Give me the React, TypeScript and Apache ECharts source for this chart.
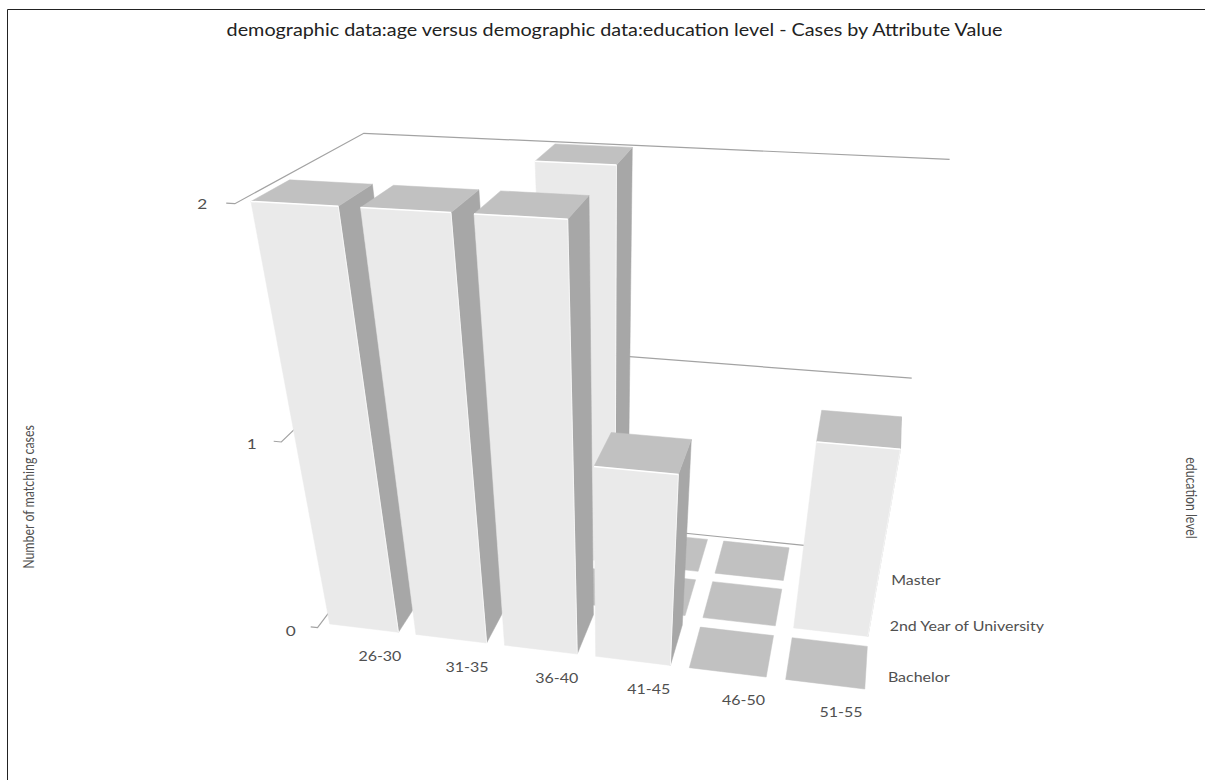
import React, { useEffect, useRef } from "react";
import * as echarts from "echarts";

const ageGroups = ["26-30", "31-35", "36-40", "41-45", "46-50", "51-55"];
const educationLevels = ["Bachelor", "2nd Year of University", "Master"];
const bachelorCases = [2, 2, 2, 1, 0, 0];
const secondYearCases = [0, 0, 0, 0, 0, 1];
const masterCases = [0, 0, 2, 0, 0, 0];
const valueTicks = [0, 1, 2];

// Camera of the 3D plot: homogeneous projection of (age slot, education slot, value) to pixels.
const CAMERA = [
  [81.09477, 55.54762, -67.26276, 317.54218],
  [2.0292, -10.19835, -234.49443, 627.69507],
  [-0.01342, 0.06063, -0.11039, 1],
];

function project(x: number, y: number, z: number): number[] {
  const [a, b, c] = CAMERA;
  const w = c[0] * x + c[1] * y + c[2] * z + c[3];
  return [
    (a[0] * x + a[1] * y + a[2] * z + a[3]) / w,
    (b[0] * x + b[1] * y + b[2] * z + b[3]) / w,
  ];
}

const cellRows = [bachelorCases, secondYearCases, masterCases];
const FACE = "#eaeaea";
const SIDE = "#a7a7a7";
const TOP = "#c1c1c1";
const GRID = "#a3a3a3";
const LABEL = "#505050";
const FONT = "Lato";
const WIDEN = 1.23; // all lettering is set extended across the screen's x direction

// Painter's order: back row first, left to right.
const cells: number[][] = [];
for (let r = cellRows.length - 1; r >= 0; r--) {
  cellRows[r].forEach((v, c) => cells.push([c, r, v]));
}

function poly(points: number[][], fill: string) {
  return {
    type: "polygon",
    shape: { points },
    style: { fill, stroke: fill, lineWidth: 0.5 },
  };
}

function edge(a: number[], b: number[], width: number) {
  return {
    type: "line",
    shape: { x1: a[0], y1: a[1], x2: b[0], y2: b[1] },
    style: { stroke: "#ffffff", lineWidth: width },
  };
}

function renderBar(_: any, api: any) {
  const c = api.value(0);
  const r = api.value(1);
  const v = api.value(2);
  const x0 = c + 0.1, x1 = c + 0.9, y0 = r + 0.1, y1 = r + 0.9;
  const children: any[] = [];
  if (v > 0) {
    children.push(poly([project(x1, y0, 0), project(x1, y1, 0), project(x1, y1, v), project(x1, y0, v)], SIDE));
  }
  children.push(poly([project(x0, y0, v), project(x1, y0, v), project(x1, y1, v), project(x0, y1, v)], TOP));
  if (v > 0) {
    children.push(poly([project(x0, y0, 0), project(x1, y0, 0), project(x1, y0, v), project(x0, y0, v)], FACE));
    children.push(edge(project(x1, y0, 0), project(x1, y0, v), 0.7));
    children.push(edge(project(x0, y0, v), project(x1, y0, v), 1.5));
  }
  return { type: "group", children };
}

function renderGrid(_: any, api: any) {
  const z = api.value(0);
  const tickEnd = project(-0.08, 0, z);
  const points = [tickEnd, project(0, 0, z), project(0, 3, z), project(6, 3, z)];
  return {
    type: "group",
    children: [
      { type: "polyline", shape: { points }, style: { stroke: GRID, fill: "none", lineWidth: 1.2 } },
      {
        type: "text",
        x: tickEnd[0] - 20 - 2 * z,
        y: tickEnd[1] + 4 - 2 * z,
        scaleX: WIDEN,
        style: { text: String(z), font: `14px ${FONT}`, fill: LABEL, textAlign: "center", textVerticalAlign: "middle" },
      },
    ],
  };
}

function renderAgeLabel(_: any, api: any) {
  const c = api.value(0);
  const p = project(c + 0.5, 0.1, 0);
  return {
    type: "text",
    x: p[0] + 16,
    y: p[1] + 28,
    scaleX: WIDEN,
    style: { text: ageGroups[c], font: `13px ${FONT}`, fill: LABEL, textAlign: "center", textVerticalAlign: "middle" },
  };
}

function renderLevelLabel(_: any, api: any) {
  const r = api.value(0);
  const p = project(6.125, r + 0.4, 0);
  return {
    type: "text",
    x: p[0],
    y: p[1] + 1.5,
    scaleX: WIDEN,
    style: { text: educationLevels[r], font: `13px ${FONT}`, fill: LABEL, textAlign: "left", textVerticalAlign: "middle" },
  };
}

export default function App() {
  const ref = useRef<HTMLDivElement>(null);
  useEffect(() => {
    const chart = echarts.init(ref.current!, null, { renderer: "svg" });
    const base = { type: "custom", coordinateSystem: "none", silent: true, clip: false };
    chart.setOption({
      animation: false,
      backgroundColor: "#ffffff",
      graphic: [
        { type: "line", shape: { x1: 7.5, y1: 9.5, x2: 1205, y2: 9.5 }, style: { stroke: "#222222", lineWidth: 1 } },
        { type: "line", shape: { x1: 7.5, y1: 9.5, x2: 7.5, y2: 780 }, style: { stroke: "#222222", lineWidth: 1 } },
        {
          type: "text", x: 614.5, y: 30, scaleX: 1.2,
          style: {
            text: "demographic data:age versus demographic data:education level - Cases by Attribute Value",
            font: `16.5px ${FONT}`, fill: "#222222", textAlign: "center", textVerticalAlign: "middle",
          },
        },
        {
          type: "text", x: 28, y: 497, rotation: Math.PI / 2, scaleY: WIDEN,
          style: { text: "Number of matching cases", font: `12.4px ${FONT}`, fill: LABEL, textAlign: "center", textVerticalAlign: "middle" },
        },
        {
          type: "text", x: 1192, y: 498, rotation: -Math.PI / 2, scaleY: WIDEN,
          style: { text: "education level", font: `12.3px ${FONT}`, fill: LABEL, textAlign: "center", textVerticalAlign: "middle" },
        },
      ],
      series: [
        { ...base, data: valueTicks.map((z) => [z]), renderItem: renderGrid },
        { ...base, data: cells, renderItem: renderBar },
        { ...base, data: ageGroups.map((_, i) => [i]), renderItem: renderAgeLabel },
        { ...base, data: educationLevels.map((_, i) => [i]), renderItem: renderLevelLabel },
      ],
    });
    return () => chart.dispose();
  }, []);
  return <div ref={ref} style={{ position: "absolute", left: 0, top: 0, width: 1205, height: 780 }} />;
}
